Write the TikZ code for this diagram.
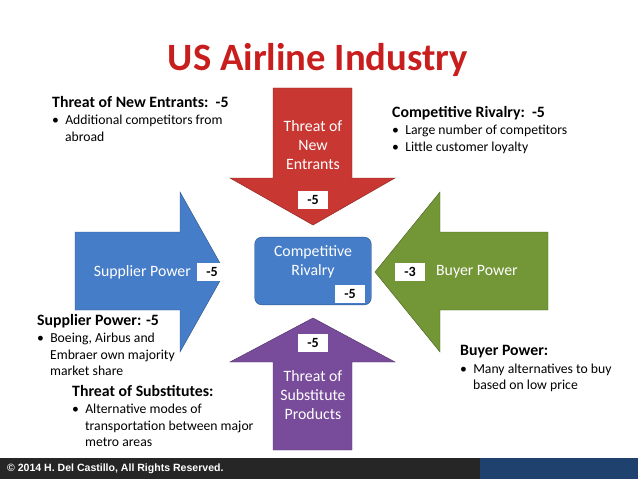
\documentclass[tikz,border=0pt]{standalone}
\usepackage{fontspec}
\setmainfont{Carlito}
\newfontfamily\footfont{Liberation Sans}
\usetikzlibrary{positioning}
\definecolor{redarr}{RGB}{200,55,50}
\definecolor{bluearr}{RGB}{70,125,200}
\definecolor{greenarr}{RGB}{115,150,55}
\definecolor{purparr}{RGB}{120,75,155}
\definecolor{titlered}{RGB}{200,30,30}
\definecolor{footblue}{RGB}{30,65,110}
\newcommand{\notehead}[1]{{\bfseries\fontsize{13.5}{15}\selectfont #1}}
\tikzset{
  score/.style={fill=white, font=\bfseries\fontsize{12}{14}\selectfont, minimum width=26pt, minimum height=16pt, inner sep=1pt},
  arrlabel/.style={text=white, font=\fontsize{13.5}{16.5}\selectfont, align=center},
  note/.style={font=\fontsize{11.7}{14}\selectfont, align=left, anchor=north west, inner sep=0pt},
}
\begin{document}
\begin{tikzpicture}[x=0.03cm, y=-0.03cm]
  \useasboundingbox (0,0) rectangle (638,479);

  % title
  \node[text=titlered, font=\bfseries\fontsize{33}{36}\selectfont] (title) at (318,60) {US Airline Industry};

  % arrows
  \fill[redarr, draw=redarr!70!black] (273,88) -- (352,88) -- (352,178) -- (395,178) -- (313,225) -- (230,178) -- (273,178) -- cycle;
  \fill[bluearr, draw=bluearr!70!black] (75,232) -- (180,232) -- (180,192) -- (225,272) -- (180,352) -- (180,310) -- (75,310) -- cycle;
  \fill[greenarr, draw=greenarr!70!black] (548,232) -- (440,232) -- (440,192) -- (375,272) -- (440,352) -- (440,310) -- (548,310) -- cycle;
  \fill[purparr, draw=purparr!70!black] (273,450) -- (352,450) -- (352,362) -- (395,362) -- (313,318) -- (230,362) -- (273,362) -- cycle;

  % centre
  \node[fill=bluearr, draw=bluearr!70!black, rounded corners=6pt, minimum width=117*0.85pt, minimum height=68*0.85pt] (rivalry) at (313,271) {};
  \node[arrlabel] at (313,262) {Competitive\\Rivalry};

  % arrow labels
  \node[arrlabel] (newent) at (313,145) {Threat of\\New\\Entrants};
  \node[arrlabel, anchor=east] (supp) at (195,272) {Supplier Power};
  \node[arrlabel, anchor=west] (buy) at (432,272) {Buyer Power};
  \node[arrlabel] (subst) at (313,395) {Threat of\\Substitute\\Products};

  % scores
  \node[score] (snew) at (313,200) {-5};
  \node[score] (ssupp) at (212,272) {-5};
  \node[score] (sbuy) at (410,272) {-3};
  \node[score] (sriv) at (350,294) {-5};
  \node[score] (ssub) at (313,343) {-5};

  % notes
  \node[note] (n1) at (52,96) {\notehead{Threat of New Entrants:\ \ -5}\\[1pt]
    \textbullet\ \ Additional competitors from\\\hspace*{11pt}abroad};
  \node[note] (n2) at (392,106) {\notehead{Competitive Rivalry:\ \ -5}\\[1pt]
    \textbullet\ \ Large number of competitors\\\textbullet\ \ Little customer loyalty};
  \node[note] (n3) at (37,314) {\notehead{Supplier Power: -5}\\[1pt]
    \textbullet\ \ Boeing, Airbus and\\\hspace*{11pt}Embraer own majority\\\hspace*{11pt}market share};
  \node[note] (n4) at (72,385) {\notehead{Threat of Substitutes:}\\[1pt]
    \textbullet\ \ Alternative modes of\\\hspace*{11pt}transportation between major\\\hspace*{11pt}metro areas};
  \node[note] (n5) at (460,345) {\notehead{Buyer Power:}\\[1pt]
    \textbullet\ \ Many alternatives to buy\\\hspace*{11pt}based on low price};

  % footer
  \fill[black!85] (0,458) rectangle (480,479);
  \fill[footblue] (480,458) rectangle (638,479);
  \node[text=white, font=\footfont\bfseries\fontsize{9}{10}\selectfont, anchor=west] (foot) at (3,469) {\textcopyright\ 2014 H. Del Castillo, All Rights Reserved.};
\end{tikzpicture}
\end{document}
